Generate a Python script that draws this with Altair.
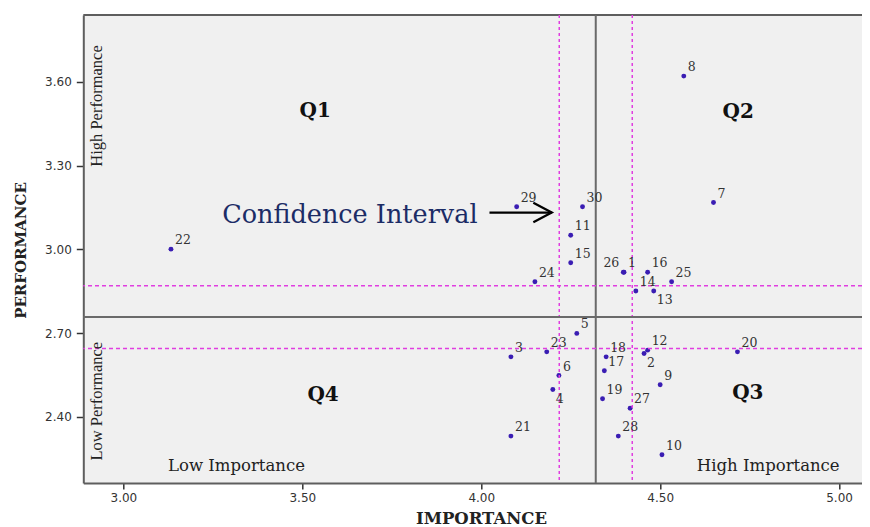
import altair as alt
import pandas as pd

# ---- data ----
ids = list(range(1, 31))
importance = [4.399, 4.455, 4.083, 4.200, 4.267, 4.217, 4.649, 4.566, 4.500, 4.505,
              4.250, 4.465, 4.482, 4.432, 4.250, 4.465, 4.344, 4.349, 4.339, 4.716,
              4.083, 3.133, 4.183, 4.150, 4.532, 4.397, 4.416, 4.383, 4.099, 4.283]
performance = [2.918, 2.627, 2.615, 2.498, 2.699, 2.548, 3.168, 3.621, 2.515, 2.264,
               3.051, 2.639, 2.851, 2.851, 2.952, 2.918, 2.565, 2.615, 2.465, 2.633,
               2.331, 3.001, 2.633, 2.884, 2.884, 2.918, 2.431, 2.331, 3.153, 3.153]
label_side = ["ur", "br", "ur", "br", "ur", "ur", "ur", "ur", "ur", "ur",
              "ur", "ur", "br", "ur", "ur", "ur", "ur", "ur", "ur", "ur",
              "ur", "ur", "ur", "ur", "ur", "ul", "ur", "ur", "ur", "ur"]

x_ticks = [3.0, 3.5, 4.0, 4.5, 5.0]
y_ticks = [2.4, 2.7, 3.0, 3.3, 3.6]
x_range = [2.888, 5.064]
y_range = [2.163, 3.840]

mean_importance = [4.320]
ci_importance = [4.218, 4.422]
mean_performance = [2.758]
ci_performance = [2.645, 2.870]

quad_text = ["Q1", "Q2", "Q3", "Q4"]
quad_x = [3.536, 4.718, 4.745, 3.558]
quad_y = [3.496, 3.492, 2.485, 2.478]

horiz_text = ["Low Importance", "High Importance"]
horiz_x = [3.316, 4.802]
horiz_y = [2.223, 2.223]

vert_text = ["High Performance", "Low Performance"]
vert_x = [2.9265, 2.9265]
vert_y = [3.514, 2.456]

ci_label = ["Confidence Interval"]
ci_label_x = [3.633]
ci_label_y = [3.125]

arrow_x0 = [4.023]
arrow_x1 = [4.197]
arrow_y = [3.132]

# ---- tables ----
pts = pd.DataFrame({"id": [str(i) for i in ids], "importance": importance,
                    "performance": performance, "side": label_side})
quads = pd.DataFrame({"t": quad_text, "x": quad_x, "y": quad_y})
horiz = pd.DataFrame({"t": horiz_text, "x": horiz_x, "y": horiz_y})
vert = pd.DataFrame({"t": vert_text, "x": vert_x, "y": vert_y})
cil = pd.DataFrame({"t": ci_label, "x": ci_label_x, "y": ci_label_y})
arrow = pd.DataFrame({"x0": arrow_x0, "x1": arrow_x1, "y": arrow_y})

xs = alt.Scale(domain=x_range, nice=False, zero=False)
ys = alt.Scale(domain=y_range, nice=False, zero=False)

SERIF = "DejaVu Serif"
FRAME = "#5e5e5e"

points = alt.Chart(pts).mark_circle(size=24, color="#3a1db3", opacity=1).encode(
    x=alt.X("importance:Q", scale=xs,
            axis=alt.Axis(values=x_ticks, format=".2f", title="IMPORTANCE", grid=False,
                          domain=True, domainColor=FRAME, domainWidth=2,
                          tickSize=6, tickWidth=1.5, tickColor="#333", labelPadding=3,
                          labelFont="DejaVu Sans", labelFontSize=12, labelColor="#333",
                          titleFont=SERIF, titleFontWeight="bold", titleFontSize=16.5, titleColor="#222",
                          titleX=397.7, titleY=40, titleAlign="center", titleBaseline="alphabetic")),
    y=alt.Y("performance:Q", scale=ys,
            axis=alt.Axis(values=y_ticks, format=".2f", title="PERFORMANCE", grid=False,
                          domain=True, domainColor=FRAME, domainWidth=2,
                          tickSize=7, tickWidth=1.5, tickColor="#333", labelPadding=5,
                          labelFont="DejaVu Sans", labelFontSize=12, labelColor="#333",
                          titleFont=SERIF, titleFontWeight="bold", titleFontSize=15, titleColor="#222",
                          titleX=-63, titleY=235, titleAngle=270, titleAlign="center",
                          titleBaseline="middle")),
)

X = lambda f: alt.X(f, scale=xs)
Y = lambda f: alt.Y(f, scale=ys)


def lab(side, align, dx, dy):
    return alt.Chart(pts).transform_filter(alt.datum.side == side).mark_text(
        font=SERIF, fontSize=12.5, color="#333", align=align, baseline="middle", dx=dx, dy=dy
    ).encode(x=X("importance:Q"), y=Y("performance:Q"), text="id:N")


labels_ur = lab("ur", "left", 4, -9)
labels_br = lab("br", "left", 3, 9)
labels_ul = lab("ul", "right", -4, -9)

top_frame = alt.Chart(pd.DataFrame({"v": [y_range[1]]})).mark_rule(color=FRAME, strokeWidth=2).encode(
    y=Y("v:Q"))
vsolid = alt.Chart(pd.DataFrame({"v": mean_importance})).mark_rule(color="#6a6a6a", strokeWidth=2).encode(
    x=X("v:Q"))
vdash = alt.Chart(pd.DataFrame({"v": ci_importance})).mark_rule(
    color="#e03ee0", strokeWidth=1.5, strokeDash=[3, 3]).encode(x=X("v:Q"))
hsolid = alt.Chart(pd.DataFrame({"v": mean_performance})).mark_rule(color="#6a6a6a", strokeWidth=2).encode(
    y=Y("v:Q"))
hdash = alt.Chart(pd.DataFrame({"v": ci_performance})).mark_rule(
    color="#e03ee0", strokeWidth=1.5, strokeDash=[4, 3]).encode(y=Y("v:Q"))

qtext = alt.Chart(quads).mark_text(font=SERIF, fontSize=20, fontWeight="bold", color="#111",
                                   align="center", baseline="middle").encode(
    x=X("x:Q"), y=Y("y:Q"), text="t:N")
htext = alt.Chart(horiz).mark_text(font=SERIF, fontSize=16.5, color="#222",
                                   align="center", baseline="middle").encode(
    x=X("x:Q"), y=Y("y:Q"), text="t:N")
vtext = alt.Chart(vert).mark_text(font="Liberation Serif", fontSize=16.5, color="#222", angle=270,
                                  align="center", baseline="middle").encode(
    x=X("x:Q"), y=Y("y:Q"), text="t:N")
citext = alt.Chart(cil).mark_text(font=SERIF, fontSize=25.5, color="#1c2c66",
                                  align="center", baseline="middle").encode(
    x=X("x:Q"), y=Y("y:Q"), text="t:N")

arrow_line = alt.Chart(arrow).mark_rule(color="#000", strokeWidth=2.3).encode(
    x=X("x0:Q"), x2="x1:Q", y=Y("y:Q"))
arrow_head = alt.Chart(arrow).mark_point(shape="M-1,-0.53L0,0L-1,0.53", size=1354, filled=False,
                                         color="#000", strokeWidth=2.3, opacity=1,
                                         strokeJoin="miter").encode(
    x=X("x1:Q"), y=Y("y:Q"))

chart = alt.layer(
    points, top_frame, vsolid, vdash, hsolid, hdash, labels_ur, labels_br, labels_ul,
    qtext, htext, vtext, citext, arrow_line, arrow_head
).properties(
    width=778.7, height=468,
    padding={"left": 75.3, "top": 7, "right": 0, "bottom": 44},
    autosize=alt.AutoSizeParams(type="none"),
    background="white",
).configure_view(fill="#f0f0f0", strokeOpacity=0)

chart.save("out.html", embed_options={"renderer": "svg", "actions": False})
